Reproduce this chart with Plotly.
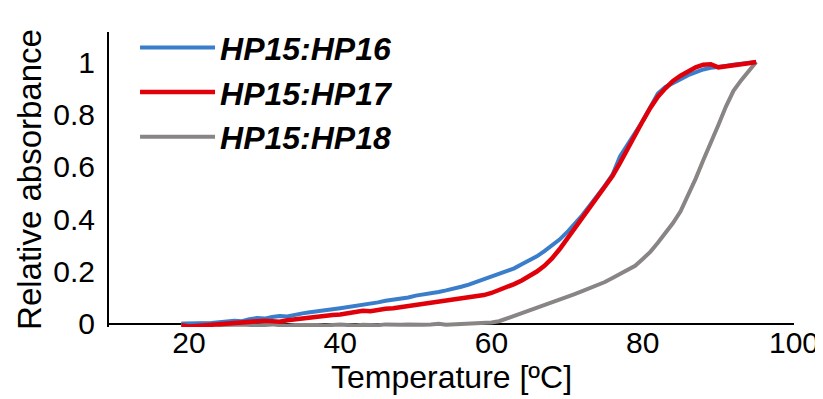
import plotly.graph_objects as go

temperature = list(range(19, 96))

hp16 = [0.000, 0.000, 0.002, 0.000, 0.003, 0.006, 0.008, 0.012, 0.010, 0.018,
        0.022, 0.020, 0.026, 0.030, 0.028, 0.036, 0.040, 0.044, 0.047, 0.052,
        0.056, 0.060, 0.064, 0.070, 0.073, 0.078, 0.082, 0.088, 0.092, 0.098,
        0.101, 0.108, 0.112, 0.117, 0.122, 0.128, 0.134, 0.142, 0.150, 0.160,
        0.168, 0.178, 0.190, 0.200, 0.212, 0.228, 0.242, 0.258, 0.278, 0.298,
        0.322, 0.350, 0.382, 0.415, 0.452, 0.488, 0.528, 0.570, 0.640, 0.685,
        0.728, 0.775, 0.828, 0.880, 0.905, 0.918, 0.935, 0.950, 0.962, 0.972,
        0.978, 0.980, 0.985, 0.990, 0.994, 0.998, 1.000]

hp17 = [-0.005, -0.010, -0.008, -0.006, -0.004, 0.000, 0.003, 0.005, 0.004, 0.008,
        0.010, 0.012, 0.010, 0.008, 0.014, 0.018, 0.020, 0.024, 0.026, 0.030,
        0.034, 0.036, 0.040, 0.044, 0.050, 0.048, 0.054, 0.058, 0.060, 0.064,
        0.068, 0.072, 0.075, 0.080, 0.082, 0.086, 0.090, 0.094, 0.098, 0.104,
        0.110, 0.118, 0.128, 0.140, 0.152, 0.166, 0.182, 0.200, 0.222, 0.250,
        0.285, 0.325, 0.362, 0.400, 0.440, 0.478, 0.520, 0.565, 0.615, 0.670,
        0.725, 0.775, 0.825, 0.868, 0.900, 0.928, 0.948, 0.965, 0.980, 0.990,
        0.992, 0.980, 0.985, 0.990, 0.992, 0.996, 1.000]

hp18 = [0.000, 0.000, -0.003, -0.002, 0.000, -0.004, -0.005, -0.003, -0.002, -0.004,
        -0.006, -0.004, -0.002, -0.005, -0.007, -0.004, -0.003, -0.005, -0.004, -0.006,
        -0.003, -0.002, -0.004, -0.006, -0.003, -0.004, -0.005, -0.002, -0.004, -0.003,
        -0.002, -0.004, -0.003, -0.002, 0.000, -0.003, -0.002, 0.000, 0.002, 0.000,
        0.002, 0.005, 0.010, 0.020, 0.032, 0.044, 0.054, 0.064, 0.074, 0.084,
        0.094, 0.104, 0.114, 0.125, 0.136, 0.148, 0.160, 0.175, 0.190, 0.208,
        0.222, 0.248, 0.275, 0.310, 0.345, 0.385, 0.430, 0.490, 0.555, 0.625,
        0.690, 0.760, 0.830, 0.890, 0.930, 0.965, 1.000]

series_names = ["HP15:HP16", "HP15:HP17", "HP15:HP18"]
series_colors = ["#3A7DCA", "#E0000A", "#8A8585"]
series_widths = [4, 4.5, 4]

x_ticks = [20, 40, 60, 80, 100]
y_ticks = [0, 0.2, 0.4, 0.6, 0.8, 1]
y_ticklabels = ["0", "0.2", "0.4", "0.6", "0.8", "1"]

FONT = "Liberation Sans, Arial, Helvetica, sans-serif"

fig = go.Figure()
order = [2, 0, 1]  # gray underneath, red on top of blue
all_vals = [hp16, hp17, hp18]
for i in order:
    fig.add_trace(go.Scatter(x=temperature, y=all_vals[i], mode="lines",
                             name=series_names[i], legendgroup=series_names[i],
                             legendrank=i + 1,
                             line=dict(color=series_colors[i], width=series_widths[i])))

fig.update_layout(
    width=823, height=399,
    margin=dict(l=101, r=28, t=22, b=80),
    paper_bgcolor="white", plot_bgcolor="white",
    font=dict(family=FONT, size=30, color="black"),
    showlegend=True,
    legend=dict(x=0.038, y=1.04, xanchor="left", yanchor="top",
                bgcolor="rgba(0,0,0,0)",
                font=dict(family=FONT, size=32, style="italic", weight="bold"),
                itemwidth=75, tracegroupgap=10, traceorder="normal"),
    xaxis=dict(range=[9.43, 100], tickvals=x_ticks, showgrid=False,
               showline=False, zeroline=False, ticks="",
               tickfont=dict(size=30), ticklabelstandoff=-5,
               title=dict(text="Temperature [ºC]", font=dict(size=32), standoff=4)),
    yaxis=dict(range=[-0.012, 1.115], tickvals=y_ticks, ticktext=y_ticklabels,
               showgrid=False, showline=True, linecolor="black", linewidth=2,
               zeroline=True, zerolinecolor="black", zerolinewidth=2,
               ticks="", tickfont=dict(size=30), ticklabelstandoff=6,
               title=dict(text="Relative absorbance", font=dict(size=33), standoff=2)),
)

fig.write_html("out.html")
